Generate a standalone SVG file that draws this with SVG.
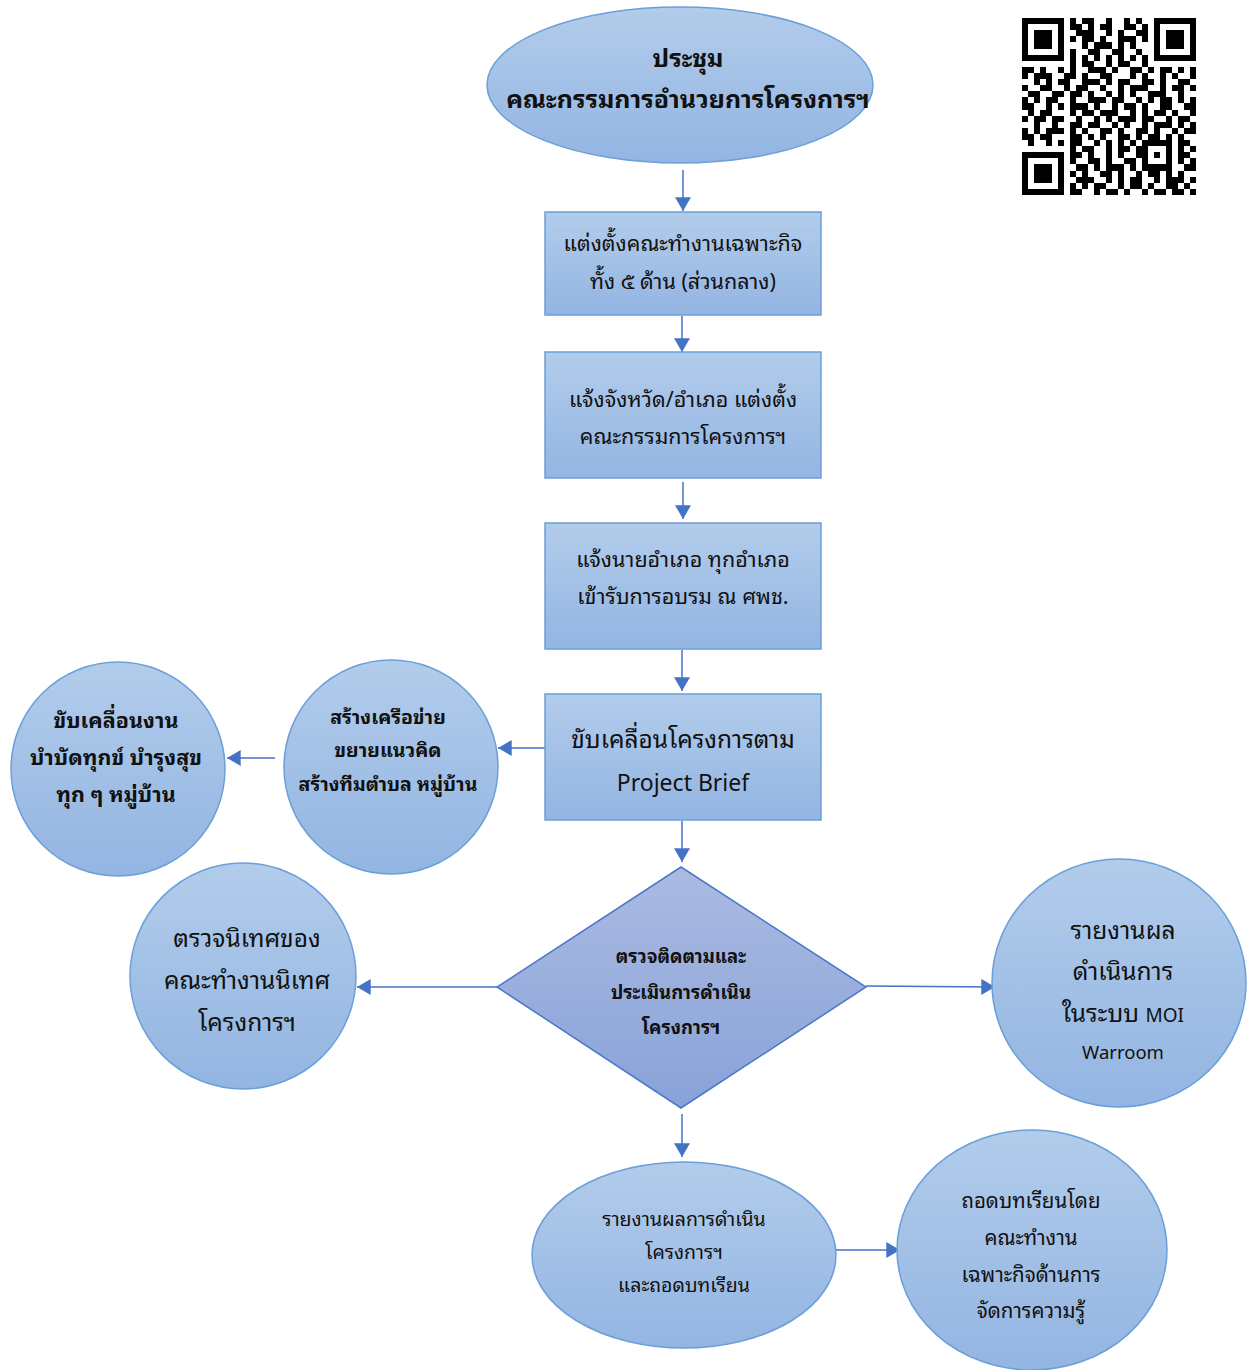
<svg xmlns="http://www.w3.org/2000/svg" width="1254" height="1370" viewBox="0 0 1254 1370">
<style>
  .t { font-family: "Noto Sans Thai Looped", "Noto Serif Thai", "Garuda", "Loma", "Noto Sans Thai", "Noto Sans", "DejaVu Sans", sans-serif; fill: #111; text-anchor: middle; }
  .b { font-weight: bold; }
  .node { fill: url(#gBlue); stroke: #6b9fd8; stroke-width: 1.5; }
  .dia { fill: url(#gDia); stroke: #4a78c8; stroke-width: 1.5; }
  .conn line { stroke: #4472c4; stroke-width: 1.5; }
</style>
<defs>
  <linearGradient id="gBlue" x1="0" y1="0" x2="0" y2="1">
    <stop offset="0" stop-color="#b2cceb"/>
    <stop offset="1" stop-color="#93b5e2"/>
  </linearGradient>
  <linearGradient id="gDia" x1="0" y1="0" x2="0" y2="1">
    <stop offset="0" stop-color="#abbbe2"/>
    <stop offset="1" stop-color="#88a2d8"/>
  </linearGradient>
  <marker id="ahL" viewBox="0 0 12 14" refX="12" refY="7" markerWidth="14" markerHeight="16" markerUnits="userSpaceOnUse" orient="auto">
    <path d="M0 0L12 7L0 14z" fill="#4472c4"/>
  </marker>
</defs>
<rect width="1254" height="1370" fill="#ffffff"/>

<g id="qr" transform="translate(1022,18) scale(6,6.1)" shape-rendering="crispEdges">
<path fill="#000" d="
M0 0h7v1h-7z M8 0h1v1h-1z M10 0h2v1h-2z M14 0h1v1h-1z M17 0h1v1h-1z M19 0h1v1h-1z M22 0h7v1h-7z
M0 1h1v1h-1z M6 1h1v1h-1z M8 1h2v1h-2z M11 1h1v1h-1z M13 1h2v1h-2z M17 1h2v1h-2z M20 1h1v1h-1z M22 1h1v1h-1z M28 1h1v1h-1z
M0 2h1v1h-1z M2 2h3v1h-3z M6 2h1v1h-1z M9 2h3v1h-3z M14 2h1v1h-1z M16 2h1v1h-1z M19 2h2v1h-2z M22 2h1v1h-1z M24 2h3v1h-3z M28 2h1v1h-1z
M0 3h1v1h-1z M2 3h3v1h-3z M6 3h1v1h-1z M8 3h1v1h-1z M10 3h2v1h-2z M13 3h1v1h-1z M16 3h3v1h-3z M20 3h1v1h-1z M22 3h1v1h-1z M24 3h3v1h-3z M28 3h1v1h-1z
M0 4h1v1h-1z M2 4h3v1h-3z M6 4h1v1h-1z M10 4h1v1h-1z M12 4h3v1h-3z M16 4h1v1h-1z M18 4h1v1h-1z M22 4h1v1h-1z M24 4h3v1h-3z M28 4h1v1h-1z
M0 5h1v1h-1z M6 5h1v1h-1z M8 5h1v1h-1z M11 5h2v1h-2z M15 5h2v1h-2z M19 5h1v1h-1z M22 5h1v1h-1z M28 5h1v1h-1z
M0 6h7v1h-7z M8 6h1v1h-1z M10 6h1v1h-1z M12 6h1v1h-1z M14 6h1v1h-1z M16 6h1v1h-1z M18 6h1v1h-1z M20 6h1v1h-1z M22 6h7v1h-7z
M8 7h1v1h-1z M10 7h2v1h-2z M14 7h1v1h-1z M16 7h2v1h-2z M20 7h1v1h-1z
M0 8h2v1h-2z M3 8h1v1h-1z M6 8h1v1h-1z M8 8h1v1h-1z M11 8h3v1h-3z M15 8h1v1h-1z M18 8h2v1h-2z M21 8h1v1h-1z M23 8h2v1h-2z M26 8h1v1h-1z M28 8h1v1h-1z
M0 9h1v1h-1z M2 9h3v1h-3z M7 9h2v1h-2z M10 9h1v1h-1z M13 9h2v1h-2z M18 9h1v1h-1z M20 9h1v1h-1z M23 9h1v1h-1z M25 9h1v1h-1z M28 9h1v1h-1z
M2 10h1v1h-1z M4 10h1v1h-1z M6 10h2v1h-2z M10 10h3v1h-3z M14 10h1v1h-1z M16 10h2v1h-2z M20 10h2v1h-2z M23 10h1v1h-1z M26 10h2v1h-2z
M0 11h1v1h-1z M3 11h2v1h-2z M7 11h1v1h-1z M9 11h2v1h-2z M13 11h1v1h-1z M16 11h1v1h-1z M18 11h3v1h-3z M23 11h1v1h-1z M25 11h2v1h-2z M28 11h1v1h-1z
M1 12h2v1h-2z M5 12h2v1h-2z M8 12h2v1h-2z M11 12h1v1h-1z M14 12h1v1h-1z M16 12h1v1h-1z M18 12h1v1h-1z M21 12h3v1h-3z M26 12h1v1h-1z
M0 13h1v1h-1z M2 13h1v1h-1z M4 13h2v1h-2z M8 13h1v1h-1z M11 13h3v1h-3z M15 13h2v1h-2z M19 13h1v1h-1z M21 13h1v1h-1z M23 13h2v1h-2z M26 13h1v1h-1z M28 13h1v1h-1z
M0 14h2v1h-2z M4 14h1v1h-1z M6 14h1v1h-1z M8 14h3v1h-3z M12 14h1v1h-1z M15 14h1v1h-1z M17 14h2v1h-2z M20 14h1v1h-1z M23 14h2v1h-2z M27 14h2v1h-2z
M1 15h1v1h-1z M3 15h2v1h-2z M8 15h1v1h-1z M10 15h2v1h-2z M13 15h3v1h-3z M18 15h1v1h-1z M20 15h1v1h-1z M22 15h2v1h-2z M25 15h1v1h-1z M28 15h1v1h-1z
M0 16h1v1h-1z M2 16h2v1h-2z M5 16h2v1h-2z M9 16h1v1h-1z M12 16h1v1h-1z M14 16h1v1h-1z M16 16h3v1h-3z M20 16h2v1h-2z M24 16h1v1h-1z M26 16h2v1h-2z
M2 17h1v1h-1z M5 17h1v1h-1z M8 17h2v1h-2z M11 17h2v1h-2z M15 17h1v1h-1z M17 17h1v1h-1z M20 17h1v1h-1z M22 17h3v1h-3z M26 17h1v1h-1z M28 17h1v1h-1z
M0 18h1v1h-1z M2 18h1v1h-1z M4 18h3v1h-3z M8 18h1v1h-1z M10 18h1v1h-1z M13 18h2v1h-2z M16 18h1v1h-1z M19 18h2v1h-2z M22 18h1v1h-1z M25 18h1v1h-1z M27 18h2v1h-2z
M0 19h2v1h-2z M3 19h2v1h-2z M8 19h2v1h-2z M11 19h1v1h-1z M13 19h1v1h-1z M16 19h2v1h-2z M19 19h1v1h-1z M21 19h2v1h-2z M24 19h1v1h-1z M26 19h1v1h-1z
M1 20h1v1h-1z M4 20h1v1h-1z M6 20h1v1h-1z M8 20h2v1h-2z M12 20h1v1h-1z M14 20h1v1h-1z M16 20h1v1h-1z M18 20h1v1h-1z M20 20h5v1h-5z M26 20h2v1h-2z
M8 21h1v1h-1z M10 21h2v1h-2z M14 21h1v1h-1z M16 21h2v1h-2z M19 21h2v1h-2z M24 21h1v1h-1z M26 21h1v1h-1z M28 21h1v1h-1z
M0 22h7v1h-7z M8 22h2v1h-2z M11 22h1v1h-1z M14 22h1v1h-1z M16 22h1v1h-1z M19 22h2v1h-2z M22 22h1v1h-1z M24 22h1v1h-1z M26 22h2v1h-2z
M0 23h1v1h-1z M6 23h1v1h-1z M8 23h1v1h-1z M11 23h2v1h-2z M14 23h1v1h-1z M17 23h2v1h-2z M20 23h1v1h-1z M24 23h1v1h-1z M26 23h1v1h-1z M28 23h1v1h-1z
M0 24h1v1h-1z M2 24h3v1h-3z M6 24h1v1h-1z M9 24h2v1h-2z M12 24h1v1h-1z M14 24h3v1h-3z M18 24h1v1h-1z M20 24h5v1h-5z M27 24h2v1h-2z
M0 25h1v1h-1z M2 25h3v1h-3z M6 25h1v1h-1z M8 25h1v1h-1z M10 25h1v1h-1z M13 25h2v1h-2z M16 25h1v1h-1z M19 25h1v1h-1z M21 25h2v1h-2z M24 25h1v1h-1z M26 25h1v1h-1z
M0 26h1v1h-1z M2 26h3v1h-3z M6 26h1v1h-1z M9 26h3v1h-3z M14 26h1v1h-1z M16 26h1v1h-1z M18 26h2v1h-2z M22 26h1v1h-1z M24 26h3v1h-3z M28 26h1v1h-1z
M0 27h1v1h-1z M6 27h1v1h-1z M8 27h1v1h-1z M10 27h1v1h-1z M12 27h2v1h-2z M16 27h1v1h-1z M18 27h2v1h-2z M21 27h1v1h-1z M24 27h2v1h-2z M27 27h1v1h-1z
M0 28h7v1h-7z M8 28h2v1h-2z M12 28h1v1h-1z M14 28h2v1h-2z M17 28h1v1h-1z M20 28h1v1h-1z M22 28h2v1h-2z M25 28h2v1h-2z M28 28h1v1h-1z"/>
</g>

<g class="conn" id="connectors">
  <line x1="683" y1="170" x2="683" y2="211" marker-end="url(#ahL)"/>
  <line x1="682" y1="316" x2="682" y2="352" marker-end="url(#ahL)"/>
  <line x1="683" y1="482" x2="683" y2="519" marker-end="url(#ahL)"/>
  <line x1="682" y1="650" x2="682" y2="691" marker-end="url(#ahL)"/>
  <line x1="545" y1="748" x2="498" y2="748" marker-end="url(#ahL)"/>
  <line x1="275" y1="758" x2="227" y2="758" marker-end="url(#ahL)"/>
  <line x1="682" y1="821" x2="682" y2="862" marker-end="url(#ahL)"/>
  <line x1="497" y1="987" x2="357" y2="987" marker-end="url(#ahL)"/>
  <line x1="866" y1="986" x2="995" y2="987" marker-end="url(#ahL)"/>
  <line x1="682" y1="1114" x2="682" y2="1157" marker-end="url(#ahL)"/>
  <line x1="832" y1="1250" x2="900" y2="1250" marker-end="url(#ahL)"/>
</g>

<g id="n-meeting">
  <ellipse class="node" cx="680" cy="85" rx="193" ry="78"/>
  <text class="t b" x="688" y="67" font-size="25">ประชุม</text>
  <text class="t b" x="688" y="108" font-size="25">คณะกรรมการอำนวยการโครงการฯ</text>
</g>

<g id="n-appoint">
  <rect class="node" x="545" y="212" width="276" height="103"/>
  <text class="t" x="683" y="251" font-size="21.5">แต่งตั้งคณะทำงานเฉพาะกิจ</text>
  <text class="t" x="683" y="289" font-size="21.5">ทั้ง ๕ ด้าน (ส่วนกลาง)</text>
</g>

<g id="n-notify">
  <rect class="node" x="545" y="352" width="276" height="126"/>
  <text class="t" x="683" y="407" font-size="21.5">แจ้งจังหวัด/อำเภอ แต่งตั้ง</text>
  <text class="t" x="683" y="444" font-size="21.5">คณะกรรมการโครงการฯ</text>
</g>

<g id="n-train">
  <rect class="node" x="545" y="523" width="276" height="126"/>
  <text class="t" x="683" y="567" font-size="21.5">แจ้งนายอำเภอ ทุกอำเภอ</text>
  <text class="t" x="683" y="604" font-size="21.5">เข้ารับการอบรม ณ ศพช.</text>
</g>

<g id="n-drive">
  <rect class="node" x="545" y="694" width="276" height="126"/>
  <text class="t" x="683" y="748" font-size="24.5">ขับเคลื่อนโครงการตาม</text>
  <text class="t" x="683" y="791" font-size="23">Project Brief</text>
</g>

<g id="n-network">
  <circle class="node" cx="391" cy="767" r="107"/>
  <text class="t b" x="388" y="724" font-size="19.5">สร้างเครือข่าย</text>
  <text class="t b" x="388" y="757" font-size="19.5">ขยายแนวคิด</text>
  <text class="t b" x="388" y="791" font-size="19.5">สร้างทีมตำบล หมู่บ้าน</text>
</g>

<g id="n-village">
  <circle class="node" cx="118" cy="769" r="107"/>
  <text class="t b" x="116" y="728" font-size="21.5">ขับเคลื่อนงาน</text>
  <text class="t b" x="116" y="765" font-size="21.5">บำบัดทุกข์ บำรุงสุข</text>
  <text class="t b" x="116" y="802" font-size="21.5">ทุก ๆ หมู่บ้าน</text>
</g>

<g id="n-monitor">
  <polygon class="dia" points="681,867 866,987 681,1108 497,987"/>
  <text class="t b" x="681" y="963" font-size="18.5">ตรวจติดตามและ</text>
  <text class="t b" x="681" y="999" font-size="18.5">ประเมินการดำเนิน</text>
  <text class="t b" x="681" y="1034" font-size="18.5">โครงการฯ</text>
</g>

<g id="n-supervise">
  <circle class="node" cx="243" cy="976" r="113"/>
  <text class="t" x="247" y="947" font-size="24.5">ตรวจนิเทศของ</text>
  <text class="t" x="247" y="989" font-size="24.5">คณะทำงานนิเทศ</text>
  <text class="t" x="247" y="1031" font-size="24.5">โครงการฯ</text>
</g>

<g id="n-report-moi">
  <ellipse class="node" cx="1119" cy="983" rx="127" ry="124"/>
  <text class="t" x="1123" y="939" font-size="24.5">รายงานผล</text>
  <text class="t" x="1123" y="980" font-size="24.5">ดำเนินการ</text>
  <text class="t" x="1123" y="1022" font-size="24.5">ในระบบ <tspan font-size="19">MOI</tspan></text>
  <text class="t" x="1123" y="1059" font-size="18.5">Warroom</text>
</g>

<g id="n-report">
  <ellipse class="node" cx="684" cy="1255" rx="152" ry="93"/>
  <text class="t" x="684" y="1226" font-size="19.5">รายงานผลการดำเนิน</text>
  <text class="t" x="684" y="1259" font-size="19.5">โครงการฯ</text>
  <text class="t" x="684" y="1292" font-size="19.5">และถอดบทเรียน</text>
</g>

<g id="n-lessons">
  <ellipse class="node" cx="1032" cy="1250" rx="135" ry="120"/>
  <text class="t" x="1031" y="1208" font-size="20.5">ถอดบทเรียนโดย</text>
  <text class="t" x="1031" y="1245" font-size="20.5">คณะทำงาน</text>
  <text class="t" x="1031" y="1282" font-size="20.5">เฉพาะกิจด้านการ</text>
  <text class="t" x="1031" y="1318" font-size="20.5">จัดการความรู้</text>
</g>
</svg>
